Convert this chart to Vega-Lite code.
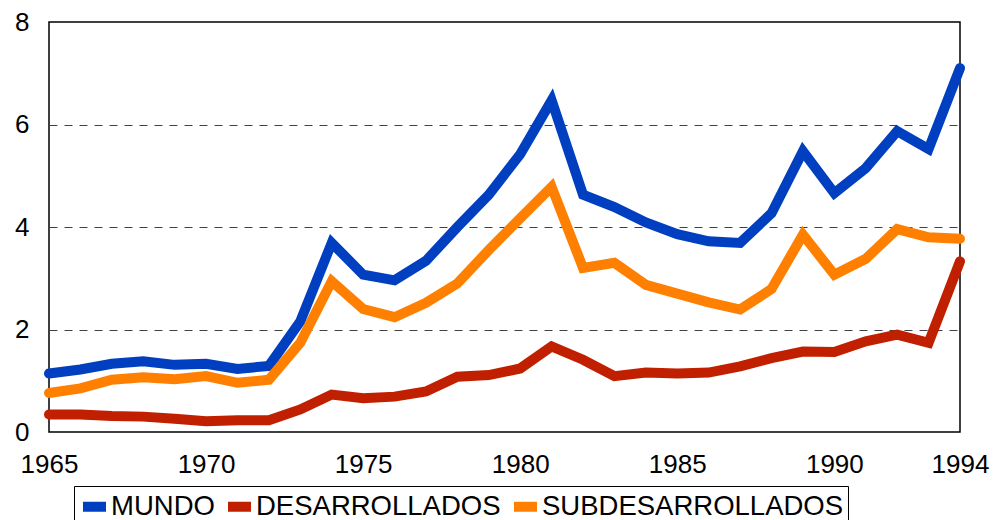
{
  "$schema": "https://vega.github.io/schema/vega-lite/v6.json",
  "width": 911,
  "height": 410,
  "autosize": {"type": "none"},
  "padding": {"left": 49, "top": 22, "right": 33, "bottom": 88},
  "background": "white",
  "config": {
    "font": "Liberation Sans",
    "view": {"stroke": "black", "strokeWidth": 1.5}
  },
  "datasets": {
    "d": [
      {"year": 1965, "serie": "MUNDO", "value": 1.14},
      {"year": 1966, "serie": "MUNDO", "value": 1.22},
      {"year": 1967, "serie": "MUNDO", "value": 1.33},
      {"year": 1968, "serie": "MUNDO", "value": 1.38},
      {"year": 1969, "serie": "MUNDO", "value": 1.31},
      {"year": 1970, "serie": "MUNDO", "value": 1.33},
      {"year": 1971, "serie": "MUNDO", "value": 1.23},
      {"year": 1972, "serie": "MUNDO", "value": 1.29},
      {"year": 1973, "serie": "MUNDO", "value": 2.16},
      {"year": 1974, "serie": "MUNDO", "value": 3.69},
      {"year": 1975, "serie": "MUNDO", "value": 3.07},
      {"year": 1976, "serie": "MUNDO", "value": 2.96},
      {"year": 1977, "serie": "MUNDO", "value": 3.34},
      {"year": 1978, "serie": "MUNDO", "value": 4.0},
      {"year": 1979, "serie": "MUNDO", "value": 4.63},
      {"year": 1980, "serie": "MUNDO", "value": 5.42},
      {"year": 1981, "serie": "MUNDO", "value": 6.47},
      {"year": 1982, "serie": "MUNDO", "value": 4.63},
      {"year": 1983, "serie": "MUNDO", "value": 4.39},
      {"year": 1984, "serie": "MUNDO", "value": 4.09},
      {"year": 1985, "serie": "MUNDO", "value": 3.86},
      {"year": 1986, "serie": "MUNDO", "value": 3.72},
      {"year": 1987, "serie": "MUNDO", "value": 3.69},
      {"year": 1988, "serie": "MUNDO", "value": 4.27},
      {"year": 1989, "serie": "MUNDO", "value": 5.48},
      {"year": 1990, "serie": "MUNDO", "value": 4.66},
      {"year": 1991, "serie": "MUNDO", "value": 5.15},
      {"year": 1992, "serie": "MUNDO", "value": 5.87},
      {"year": 1993, "serie": "MUNDO", "value": 5.52},
      {"year": 1994, "serie": "MUNDO", "value": 7.1},
      {"year": 1965, "serie": "DESARROLLADOS", "value": 0.34},
      {"year": 1966, "serie": "DESARROLLADOS", "value": 0.34},
      {"year": 1967, "serie": "DESARROLLADOS", "value": 0.31},
      {"year": 1968, "serie": "DESARROLLADOS", "value": 0.3},
      {"year": 1969, "serie": "DESARROLLADOS", "value": 0.26},
      {"year": 1970, "serie": "DESARROLLADOS", "value": 0.21},
      {"year": 1971, "serie": "DESARROLLADOS", "value": 0.23},
      {"year": 1972, "serie": "DESARROLLADOS", "value": 0.23},
      {"year": 1973, "serie": "DESARROLLADOS", "value": 0.44},
      {"year": 1974, "serie": "DESARROLLADOS", "value": 0.73},
      {"year": 1975, "serie": "DESARROLLADOS", "value": 0.66},
      {"year": 1976, "serie": "DESARROLLADOS", "value": 0.69},
      {"year": 1977, "serie": "DESARROLLADOS", "value": 0.79},
      {"year": 1978, "serie": "DESARROLLADOS", "value": 1.08},
      {"year": 1979, "serie": "DESARROLLADOS", "value": 1.11},
      {"year": 1980, "serie": "DESARROLLADOS", "value": 1.24},
      {"year": 1981, "serie": "DESARROLLADOS", "value": 1.67},
      {"year": 1982, "serie": "DESARROLLADOS", "value": 1.41},
      {"year": 1983, "serie": "DESARROLLADOS", "value": 1.09},
      {"year": 1984, "serie": "DESARROLLADOS", "value": 1.16},
      {"year": 1985, "serie": "DESARROLLADOS", "value": 1.14},
      {"year": 1986, "serie": "DESARROLLADOS", "value": 1.16},
      {"year": 1987, "serie": "DESARROLLADOS", "value": 1.28},
      {"year": 1988, "serie": "DESARROLLADOS", "value": 1.44},
      {"year": 1989, "serie": "DESARROLLADOS", "value": 1.57},
      {"year": 1990, "serie": "DESARROLLADOS", "value": 1.56},
      {"year": 1991, "serie": "DESARROLLADOS", "value": 1.77},
      {"year": 1992, "serie": "DESARROLLADOS", "value": 1.9},
      {"year": 1993, "serie": "DESARROLLADOS", "value": 1.74},
      {"year": 1994, "serie": "DESARROLLADOS", "value": 3.33},
      {"year": 1965, "serie": "SUBDESARROLLADOS", "value": 0.76},
      {"year": 1966, "serie": "SUBDESARROLLADOS", "value": 0.85},
      {"year": 1967, "serie": "SUBDESARROLLADOS", "value": 1.02},
      {"year": 1968, "serie": "SUBDESARROLLADOS", "value": 1.07},
      {"year": 1969, "serie": "SUBDESARROLLADOS", "value": 1.03},
      {"year": 1970, "serie": "SUBDESARROLLADOS", "value": 1.09},
      {"year": 1971, "serie": "SUBDESARROLLADOS", "value": 0.96},
      {"year": 1972, "serie": "SUBDESARROLLADOS", "value": 1.02},
      {"year": 1973, "serie": "SUBDESARROLLADOS", "value": 1.74},
      {"year": 1974, "serie": "SUBDESARROLLADOS", "value": 2.94},
      {"year": 1975, "serie": "SUBDESARROLLADOS", "value": 2.4},
      {"year": 1976, "serie": "SUBDESARROLLADOS", "value": 2.24},
      {"year": 1977, "serie": "SUBDESARROLLADOS", "value": 2.52},
      {"year": 1978, "serie": "SUBDESARROLLADOS", "value": 2.9},
      {"year": 1979, "serie": "SUBDESARROLLADOS", "value": 3.55},
      {"year": 1980, "serie": "SUBDESARROLLADOS", "value": 4.17},
      {"year": 1981, "serie": "SUBDESARROLLADOS", "value": 4.78},
      {"year": 1982, "serie": "SUBDESARROLLADOS", "value": 3.2},
      {"year": 1983, "serie": "SUBDESARROLLADOS", "value": 3.3},
      {"year": 1984, "serie": "SUBDESARROLLADOS", "value": 2.87},
      {"year": 1985, "serie": "SUBDESARROLLADOS", "value": 2.7},
      {"year": 1986, "serie": "SUBDESARROLLADOS", "value": 2.53},
      {"year": 1987, "serie": "SUBDESARROLLADOS", "value": 2.39},
      {"year": 1988, "serie": "SUBDESARROLLADOS", "value": 2.79},
      {"year": 1989, "serie": "SUBDESARROLLADOS", "value": 3.85},
      {"year": 1990, "serie": "SUBDESARROLLADOS", "value": 3.07},
      {"year": 1991, "serie": "SUBDESARROLLADOS", "value": 3.38},
      {"year": 1992, "serie": "SUBDESARROLLADOS", "value": 3.96},
      {"year": 1993, "serie": "SUBDESARROLLADOS", "value": 3.8},
      {"year": 1994, "serie": "SUBDESARROLLADOS", "value": 3.77}
    ]
  },
  "data": {"name": "d"},
  "mark": {"type": "line", "strokeWidth": 10, "strokeCap": "round", "strokeJoin": "miter", "clip": false},
  "encoding": {
    "x": {
      "field": "year",
      "type": "quantitative",
      "scale": {"domain": [1965, 1994], "nice": false, "zero": false},
      "axis": {
        "title": null,
        "values": [1965, 1970, 1975, 1980, 1985, 1990, 1994],
        "format": "d",
        "ticks": false,
        "domain": false,
        "grid": false,
        "labelFontSize": 26,
        "labelColor": "black",
        "labelPadding": 19,
        "labelFlush": false,
        "labelOverlap": false
      }
    },
    "y": {
      "field": "value",
      "type": "quantitative",
      "scale": {"domain": [0, 8], "nice": false},
      "axis": {
        "title": null,
        "values": [0, 2, 4, 6, 8],
        "ticks": false,
        "domain": false,
        "grid": true,
        "gridColor": "#404040",
        "gridWidth": 1,
        "gridDash": [8, 7],
        "gridOpacity": {"condition": {"test": "datum.value == 0 || datum.value == 8", "value": 0}, "value": 1},
        "labelFontSize": 26,
        "labelColor": "black",
        "labelPadding": 20,
        "labelFlush": false
      }
    },
    "color": {
      "field": "serie",
      "type": "nominal",
      "sort": null,
      "scale": {
        "domain": ["MUNDO", "DESARROLLADOS", "SUBDESARROLLADOS"],
        "range": ["#0040C0", "#C02000", "#FF8000"]
      },
      "legend": {
        "title": null,
        "orient": "none",
        "direction": "horizontal",
        "legendX": 25,
        "legendY": 464,
        "symbolType": "stroke",
        "symbolSize": 529,
        "symbolStrokeWidth": 10,
        "labelFontSize": 27.5,
        "labelColor": "black",
        "labelOffset": 0,
        "columnPadding": -7,
        "padding": 4,
        "strokeColor": "black",
        "labelLimit": 0
      }
    }
  }
}
